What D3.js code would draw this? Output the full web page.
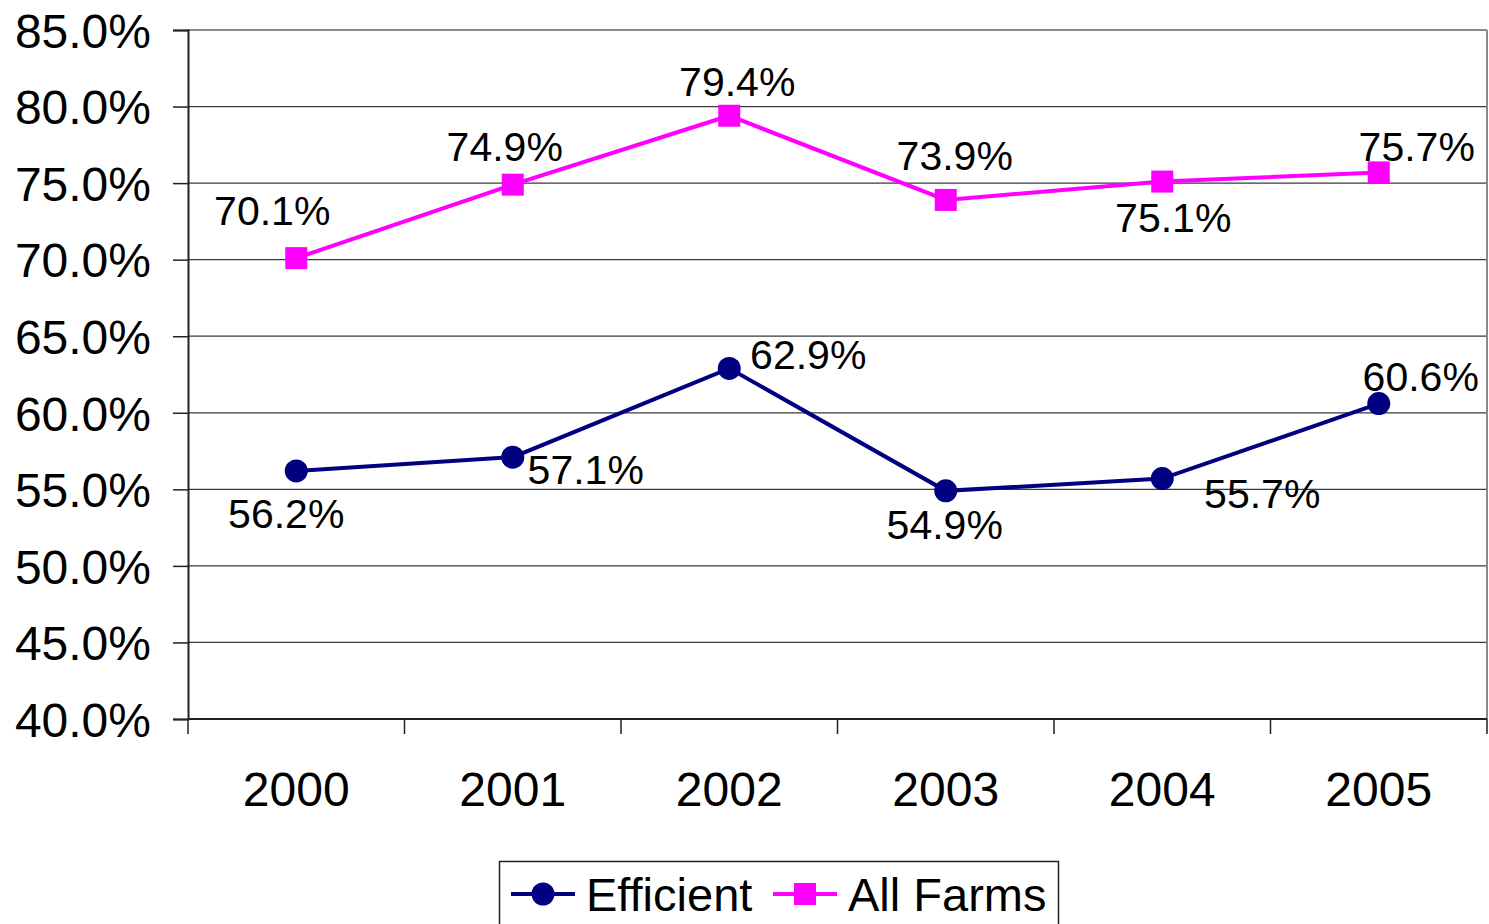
<!DOCTYPE html>
<html>
<head>
<meta charset="utf-8">
<script src="https://cdn.jsdelivr.net/npm/d3@7"></script>
<style>
  html, body { margin: 0; padding: 0; background: #fff; }
  svg { display: block; font-family: "Liberation Sans", Arial, sans-serif; }
</style>
</head>
<body>
<svg id="chart" width="1489" height="924"></svg>
<script>
// Years on the category axis
const years = ["2000", "2001", "2002", "2003", "2004", "2005"];
// Percent values for each series
const efficient = [56.2, 57.1, 62.9, 54.9, 55.7, 60.6];
const allFarms = [70.1, 74.9, 79.4, 73.9, 75.1, 75.7];
// Y-axis ticks
const yTicks = [40, 45, 50, 55, 60, 65, 70, 75, 80, 85];
const seriesNames = ["Efficient", "All Farms"];

// Label offsets (dx, dy from point to text baseline centre)
const effLabelOffsets = [[-10, 57], [73, 27], [79, 1], [-1, 48], [100, 29], [42, -13]];
const allLabelOffsets = [[-24, -33], [-8, -24], [8, -20], [9, -30], [11, 50], [38, -11]];

const svg = d3.select("#chart");
const plot = { left: 188, right: 1487, top: 30, bottom: 719 };

const x = d3.scaleBand().domain(years).range([plot.left, plot.right]);
const y = d3.scaleLinear().domain([40, 85]).range([plot.bottom, plot.top]);
const cx = d => x(d) + x.bandwidth() / 2;

// Gridlines
svg.append("g").selectAll("line").data(yTicks.filter(t => t > 40 && t < 85)).join("line")
  .attr("x1", plot.left).attr("x2", plot.right)
  .attr("y1", d => y(d)).attr("y2", d => y(d))
  .attr("stroke", "#3a3a3a").attr("stroke-width", 1.3);

// Plot frame: top and right in gray
svg.append("line").attr("x1", plot.left).attr("x2", plot.right).attr("y1", y(85)).attr("y2", y(85))
  .attr("stroke", "#8a8a8a").attr("stroke-width", 2);
svg.append("line").attr("x1", plot.right).attr("x2", plot.right).attr("y1", plot.top).attr("y2", plot.bottom)
  .attr("stroke", "#8a8a8a").attr("stroke-width", 2);

// Y axis
const yAxis = d3.axisLeft(y).tickValues(yTicks).tickSize(15).tickPadding(22)
  .tickFormat(d => d.toFixed(1) + "%");
const gy = svg.append("g").attr("transform", `translate(${plot.left},0)`).call(yAxis);
gy.select(".domain").attr("stroke", "#222").attr("stroke-width", 2);
gy.selectAll(".tick line").attr("stroke", "#222").attr("stroke-width", 1.5);
gy.selectAll(".tick text").attr("font-size", 48).attr("fill", "#000")
  .attr("font-family", "Liberation Sans, Arial, sans-serif").attr("dy", "0.36em");

// X axis with ticks on band boundaries
const xAxisLine = svg.append("g");
xAxisLine.append("line").attr("x1", plot.left).attr("x2", plot.right)
  .attr("y1", plot.bottom).attr("y2", plot.bottom)
  .attr("stroke", "#222").attr("stroke-width", 2);
const bounds = years.map(d => x(d)).concat([plot.right]);
xAxisLine.selectAll("line.tk").data(bounds).join("line").attr("class", "tk")
  .attr("x1", d => d).attr("x2", d => d).attr("y1", plot.bottom).attr("y2", plot.bottom + 15)
  .attr("stroke", "#222").attr("stroke-width", 1.5);
svg.append("g").selectAll("text").data(years).join("text")
  .attr("x", d => cx(d)).attr("y", 806)
  .attr("text-anchor", "middle").attr("font-size", 48).attr("fill", "#000")
  .text(d => d);

const line = d3.line().x((d, i) => cx(years[i])).y(d => y(d));

// All Farms series
svg.append("path").datum(allFarms).attr("d", line)
  .attr("fill", "none").attr("stroke", "#ff00ff").attr("stroke-width", 4);
svg.append("g").selectAll("rect").data(allFarms).join("rect")
  .attr("x", (d, i) => cx(years[i]) - 11).attr("y", d => y(d) - 11)
  .attr("width", 22).attr("height", 22).attr("fill", "#ff00ff");

// Efficient series
svg.append("path").datum(efficient).attr("d", line)
  .attr("fill", "none").attr("stroke", "#000080").attr("stroke-width", 4);
svg.append("g").selectAll("circle").data(efficient).join("circle")
  .attr("cx", (d, i) => cx(years[i])).attr("cy", d => y(d)).attr("r", 11.5)
  .attr("fill", "#000080");

// Data labels
function labels(values, offsets) {
  svg.append("g").selectAll("text").data(values).join("text")
    .attr("x", (d, i) => cx(years[i]) + offsets[i][0])
    .attr("y", (d, i) => y(d) + offsets[i][1])
    .attr("text-anchor", "middle").attr("font-size", 41).attr("fill", "#000")
    .text(d => d.toFixed(1) + "%");
}
labels(allFarms, allLabelOffsets);
labels(efficient, effLabelOffsets);

// Legend
const lg = svg.append("g");
lg.append("rect").attr("x", 499.5).attr("y", 861.5).attr("width", 559).attr("height", 80)
  .attr("fill", "#fff").attr("stroke", "#222").attr("stroke-width", 1.5);
const ly = 894;
lg.append("line").attr("x1", 511).attr("x2", 575).attr("y1", ly).attr("y2", ly)
  .attr("stroke", "#000080").attr("stroke-width", 4);
lg.append("circle").attr("cx", 543).attr("cy", ly).attr("r", 11.5).attr("fill", "#000080");
lg.append("text").attr("x", 586).attr("y", ly + 17).attr("font-size", 47).attr("fill", "#000")
  .text(seriesNames[0]);
lg.append("line").attr("x1", 773).attr("x2", 837).attr("y1", ly).attr("y2", ly)
  .attr("stroke", "#ff00ff").attr("stroke-width", 4);
lg.append("rect").attr("x", 805 - 11).attr("y", ly - 11).attr("width", 22).attr("height", 22)
  .attr("fill", "#ff00ff");
lg.append("text").attr("x", 848).attr("y", ly + 17).attr("font-size", 47).attr("fill", "#000")
  .text(seriesNames[1]);
</script>
</body>
</html>
